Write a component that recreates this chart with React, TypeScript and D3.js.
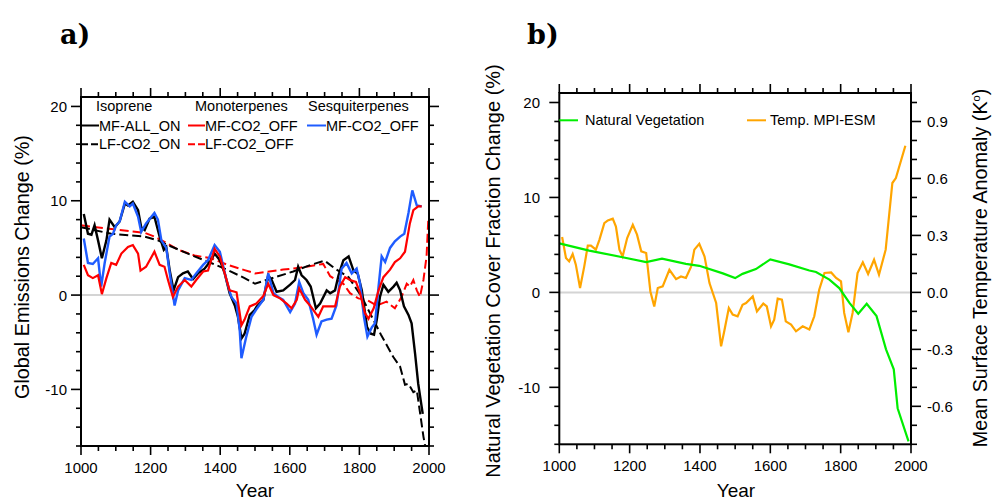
import React from "react";
import * as d3 from "d3";

// ---- Panel a: global BVOC emission change (%) ----
const isopreneMfAllOn: [number, number][] = [
  [1008, 8.6], [1020, 6.5], [1030, 6.4], [1039, 7.4], [1049, 5.8], [1060, 3.9], [1073, 5.8], [1082, 8.0],
  [1097, 7.2], [1111, 7.8], [1126, 9.7], [1135, 9.5], [1149, 9.9], [1164, 9.0], [1173, 7.2], [1183, 6.9],
  [1197, 8.1], [1211, 8.3], [1226, 6.2], [1238, 4.8], [1245, 5.1], [1255, 2.6], [1266, 0.5], [1279, 1.9],
  [1293, 2.3], [1307, 2.5], [1322, 1.7], [1336, 2.3], [1355, 2.8], [1370, 3.5], [1384, 4.4], [1399, 3.7],
  [1413, 2.3], [1427, 0.2], [1442, -1.1], [1451, -2.3], [1461, -4.6], [1470, -4.1], [1485, -2.1], [1499, -1.6],
  [1505, -1.2], [1524, -0.5], [1538, 2.1], [1548, 1.6], [1562, 0.35], [1581, 0.5], [1601, 1.1], [1615, 1.6],
  [1624, 3.0], [1634, 2.1], [1648, 1.6], [1660, 0.9], [1675, -1.4], [1687, -0.9], [1706, 0.5], [1716, 0.2],
  [1730, 0.5], [1740, 2.1], [1754, 3.7], [1769, 4.1], [1783, 2.6], [1795, 2.3], [1807, 0.5], [1822, -3.4],
  [1833, -4.1], [1842, -4.2], [1850, -2.6], [1859, -0.2], [1869, 1.1], [1883, 0.35], [1898, 0.9], [1907, 1.3],
  [1917, 0.5], [1928, -1.2], [1941, -2.1], [1950, -3.0], [1960, -6.2], [1969, -9.4], [1982, -12.6],
];

const isopreneLfCo2On: [number, number][] = [
  [1000, 7.2], [1087, 6.5], [1183, 6.2], [1221, 5.8], [1250, 5.3], [1326, 4.1], [1374, 3.4], [1422, 2.65],
  [1470, 1.8], [1500, 1.2], [1524, 1.5], [1610, 2.5], [1660, 3.2], [1700, 3.65], [1730, 2.8], [1769, 1.9],
  [1807, -0.2], [1833, -2.1], [1862, -4.2], [1898, -6.6], [1917, -7.6], [1931, -9.5], [1941, -9.4],
  [1955, -10.3], [1965, -10.1], [1974, -12.4], [1984, -15.0], [1989, -16.0],
];

const monoterpMfCo2Off: [number, number][] = [
  [1008, 3.2], [1020, 2.1], [1034, 1.8], [1049, 2.1], [1060, 0.1], [1073, 1.8], [1087, 3.4], [1101, 3.2],
  [1116, 4.4], [1135, 5.1], [1149, 5.3], [1164, 4.4], [1171, 2.6], [1187, 3.0], [1211, 4.6], [1226, 3.2],
  [1240, 3.0], [1250, 1.6], [1264, -0.2], [1279, 0.9], [1298, 1.6], [1317, 0.9], [1331, 1.6], [1351, 2.5],
  [1365, 2.6], [1384, 4.9], [1399, 4.1], [1413, 2.3], [1427, 0.5], [1447, 0.3], [1456, -1.9], [1461, -3.2],
  [1470, -2.6], [1485, -1.2], [1504, -0.9], [1524, -0.1], [1538, 1.2], [1553, 0.0], [1572, -0.35], [1591, -0.9],
  [1605, -1.4], [1620, -0.5], [1627, 0.7], [1644, -0.5], [1658, -1.1], [1672, -1.8], [1682, -2.3], [1696, -1.2],
  [1716, -1.2], [1730, -1.2], [1744, 0.9], [1759, 1.9], [1773, 1.6], [1790, 1.4], [1802, 0.2], [1816, -1.9],
  [1826, -2.5], [1841, -1.4], [1855, 0.5], [1869, 1.9], [1888, 2.7], [1902, 3.5], [1917, 3.9], [1931, 4.6],
  [1945, 7.6], [1955, 9.0], [1969, 9.4], [1979, 9.4],
];

const monoterpLfCo2Off: [number, number][] = [
  [1000, 7.4], [1087, 7.0], [1183, 6.6], [1211, 6.2], [1240, 5.65], [1279, 4.8], [1326, 4.2], [1374, 3.9],
  [1422, 3.2], [1470, 2.65], [1500, 2.3], [1581, 2.7], [1629, 2.9], [1696, 3.3], [1716, 2.0], [1735, 1.6],
  [1754, 1.2], [1773, 0.2], [1797, -0.35], [1821, -0.5], [1850, -1.1], [1878, -0.7], [1902, -1.4], [1921, -0.2],
  [1936, 1.2], [1945, 0.9], [1955, 1.6], [1965, 0.5], [1974, -0.2], [1984, 1.6], [1993, 4.1], [1998, 8.0],
];

const sesquiMfCo2Off: [number, number][] = [
  [1008, 6.0], [1020, 3.4], [1034, 3.3], [1049, 3.9], [1058, 0.9], [1068, 3.4], [1082, 6.2], [1092, 6.5],
  [1101, 7.4], [1111, 7.8], [1126, 9.9], [1140, 9.4], [1149, 9.7], [1164, 8.3], [1173, 6.7], [1187, 7.6],
  [1211, 8.7], [1221, 8.0], [1231, 5.8], [1245, 5.0], [1255, 2.3], [1269, -1.1], [1279, 0.5], [1298, 1.8],
  [1317, 1.6], [1331, 2.3], [1351, 3.2], [1365, 3.7], [1384, 5.3], [1399, 4.6], [1418, 1.6], [1432, -0.2],
  [1447, -0.9], [1456, -3.7], [1461, -6.7], [1475, -4.4], [1490, -2.3], [1504, -1.5], [1524, -0.5], [1538, 2.3],
  [1553, 0.2], [1567, -0.2], [1581, -0.5], [1601, -1.8], [1615, -0.9], [1627, 1.4], [1639, 0.2], [1653, -0.5],
  [1667, -2.5], [1677, -4.2], [1691, -2.8], [1706, -2.6], [1720, -2.5], [1734, -1.1], [1749, 2.8], [1763, 3.4],
  [1778, 2.3], [1792, 2.8], [1802, 1.2], [1813, -2.3], [1823, -4.4], [1836, -3.4], [1845, -3.0], [1855, 0.9],
  [1864, 4.1], [1874, 3.5], [1888, 5.0], [1902, 5.7], [1917, 6.2], [1929, 6.5], [1941, 8.7], [1952, 11.1],
  [1965, 9.5], [1979, 9.4],
];

// ---- Panel b: natural vegetation cover (%) and temperature anomaly (K) ----
const naturalVegetation: [number, number][] = [
  [1000, 5.16], [1085, 4.4], [1180, 3.7], [1247, 3.2], [1292, 3.55], [1360, 3.0], [1398, 2.8], [1465, 2.0],
  [1500, 1.5], [1521, 1.95], [1559, 2.45], [1600, 3.47], [1654, 2.95], [1711, 2.3], [1730, 2.15], [1768, 1.35],
  [1796, 0.45], [1825, -1.1], [1850, -2.25], [1874, -1.2], [1902, -2.5], [1929, -6.0], [1951, -8.1],
  [1962, -12.2], [1993, -15.7],
];

const tempMpiEsm: [number, number][] = [
  [1008, 0.292], [1019, 0.181], [1028, 0.163], [1038, 0.202], [1047, 0.146], [1059, 0.023], [1071, 0.137],
  [1081, 0.246], [1090, 0.246], [1104, 0.225], [1114, 0.277], [1128, 0.365], [1138, 0.379], [1152, 0.388],
  [1161, 0.347], [1171, 0.225], [1180, 0.189], [1193, 0.286], [1209, 0.356], [1221, 0.304], [1233, 0.216],
  [1247, 0.207], [1259, 0.005], [1270, -0.074], [1280, 0.023], [1294, 0.032], [1313, 0.119], [1332, 0.07],
  [1346, 0.084], [1360, 0.076], [1375, 0.137], [1384, 0.225], [1398, 0.256], [1413, 0.189], [1427, 0.049],
  [1446, -0.056], [1460, -0.284], [1469, -0.205], [1482, -0.082], [1493, -0.117], [1507, -0.126],
  [1521, -0.065], [1531, -0.056], [1550, -0.021], [1562, -0.1], [1580, -0.059], [1590, -0.074],
  [1602, -0.179], [1611, -0.144], [1621, -0.033], [1633, -0.038], [1644, -0.153], [1659, -0.17],
  [1673, -0.205], [1692, -0.179], [1711, -0.196], [1725, -0.126], [1739, 0.014], [1754, 0.102],
  [1773, 0.105], [1787, 0.076], [1801, 0.058], [1810, -0.108], [1822, -0.21], [1834, -0.108], [1848, 0.102],
  [1863, 0.158], [1878, 0.097], [1895, 0.172], [1909, 0.093], [1928, 0.225], [1947, 0.576], [1957, 0.602],
  [1984, 0.772],
];

// Axis tick values
const yearMajor = [1000, 1200, 1400, 1600, 1800, 2000];
const yearMinor = d3.range(1000, 2001, 50);
const pctMajor = [20, 10, 0, -10];
const pctMinor = d3.range(-16, 21, 2);
const kMajor = [0.9, 0.6, 0.3, 0.0, -0.3, -0.6];
const kMinor = d3.range(-8, 11, 1).map((v) => v / 10);

const FONT = "'Liberation Sans', Arial, Helvetica, sans-serif";
const SERIF = "'DejaVu Serif', 'Liberation Serif', serif";
const RED = "#ff0000";
const BLUE = "#1f5cff";
const GREEN = "#00ee00";
const ORANGE = "#ffa500";

type Pt = [number, number];

function Frame({ x0, x1, y0, y1 }: { x0: number; x1: number; y0: number; y1: number }) {
  return <rect x={x0} y={y0} width={x1 - x0} height={y1 - y0} fill="none" stroke="#000" strokeWidth={2} />;
}

export default function App() {
  // Panel a scales
  const xA = d3.scaleLinear().domain([1000, 2000]).range([81, 429]);
  const yA = d3.scaleLinear().domain([-16, 21]).range([446, 97]);
  // Panel b scales
  const xB = d3.scaleLinear().domain([1000, 2000]).range([559.3, 911]);
  const yB = d3.scaleLinear().domain([-16, 21]).range([444.3, 93]);
  const yK = d3.scaleLinear().domain([-0.8, 1.05]).range([444.3, 93]);

  const lineA = d3.line<Pt>().x((d) => xA(d[0])).y((d) => yA(d[1]));
  const lineB = d3.line<Pt>().x((d) => xB(d[0])).y((d) => yB(d[1]));
  const lineK = d3.line<Pt>().x((d) => xB(d[0])).y((d) => yK(d[1]));

  const tickColor = "#000";
  const tw = 1.6;

  const xTicks = (x: d3.ScaleLinear<number, number>, top: number, bottom: number, key: string) => (
    <g key={key}>
      {yearMinor.map((v) => {
        const major = yearMajor.includes(v);
        const L = major ? 9 : 5;
        return (
          <g key={v}>
            <line x1={x(v)} x2={x(v)} y1={top} y2={top - L} stroke={tickColor} strokeWidth={tw} />
            <line x1={x(v)} x2={x(v)} y1={bottom} y2={bottom + L} stroke={tickColor} strokeWidth={tw} />
          </g>
        );
      })}
      {yearMajor.map((v) => (
        <text key={"l" + v} x={x(v)} y={bottom + 27} textAnchor="middle" fontSize={15} fontFamily={FONT}>
          {v}
        </text>
      ))}
    </g>
  );

  const pctTicks = (
    y: d3.ScaleLinear<number, number>,
    left: number,
    right: number,
    withRight: boolean,
    labelX: number
  ) => (
    <g>
      {pctMinor.map((v) => {
        const major = pctMajor.includes(v);
        const L = major ? 10 : 5;
        return (
          <g key={v}>
            <line x1={left} x2={left - L} y1={y(v)} y2={y(v)} stroke={tickColor} strokeWidth={tw} />
            {withRight && (
              <line x1={right} x2={right + L} y1={y(v)} y2={y(v)} stroke={tickColor} strokeWidth={tw} />
            )}
          </g>
        );
      })}
      {pctMajor.map((v) => (
        <text key={"l" + v} x={labelX} y={y(v) + 5.5} textAnchor="end" fontSize={15} fontFamily={FONT}>
          {v}
        </text>
      ))}
    </g>
  );

  const legendText = (x: number, y: number, s: string, size = 14.5) => (
    <text x={x} y={y} fontSize={size} fontFamily={FONT}>
      {s}
    </text>
  );

  return (
    <svg
      width={992}
      height={502}
      style={{ position: "absolute", left: 0, top: 0, background: "#fff" }}
      xmlns="http://www.w3.org/2000/svg"
    >
      <rect x={0} y={0} width={992} height={502} fill="#fff" />

      {/* ---------- Panel a ---------- */}
      <text x={60} y={44} fontSize={27} fontWeight="bold" fontFamily={SERIF}>
        a)
      </text>
      <line x1={81} x2={429} y1={yA(0)} y2={yA(0)} stroke="#d4d4d4" strokeWidth={2} />
      <path d={lineA(monoterpLfCo2Off) ?? ""} fill="none" stroke={RED} strokeWidth={2} strokeDasharray="9,4" />
      <path d={lineA(isopreneLfCo2On) ?? ""} fill="none" stroke="#000" strokeWidth={2} strokeDasharray="9,4" />
      <path d={lineA(isopreneMfAllOn) ?? ""} fill="none" stroke="#000" strokeWidth={2.4} />
      <path d={lineA(sesquiMfCo2Off) ?? ""} fill="none" stroke={BLUE} strokeWidth={2.4} />
      <path d={lineA(monoterpMfCo2Off) ?? ""} fill="none" stroke={RED} strokeWidth={2.2} />
      <Frame x0={81} x1={429} y0={97} y1={446} />
      {xTicks(xA, 97, 446, "xa")}
      {pctTicks(yA, 81, 429, true, 67)}

      {/* legend a */}
      {legendText(96, 111, "Isoprene")}
      {legendText(195, 111, "Monoterpenes")}
      {legendText(308, 111, "Sesquiterpenes")}
      <line x1={81} x2={99} y1={125.5} y2={125.5} stroke="#000" strokeWidth={2} />
      {legendText(99, 130.5, "MF-ALL_ON")}
      <line x1={188} x2={205} y1={125.5} y2={125.5} stroke={RED} strokeWidth={2} />
      {legendText(205, 130.5, "MF-CO2_OFF")}
      <line x1={307} x2={326} y1={125.5} y2={125.5} stroke={BLUE} strokeWidth={2} />
      {legendText(326, 130.5, "MF-CO2_OFF")}
      <line x1={81} x2={99} y1={144.3} y2={144.3} stroke="#000" strokeWidth={2} strokeDasharray="7,3" />
      {legendText(99, 149.3, "LF-CO2_ON")}
      <line x1={188} x2={205} y1={144.3} y2={144.3} stroke={RED} strokeWidth={2} strokeDasharray="7,3" />
      {legendText(205, 149.3, "LF-CO2_OFF")}

      <text x={255} y={497} textAnchor="middle" fontSize={19} fontFamily={FONT}>
        Year
      </text>
      <text transform="translate(28.5, 267) rotate(-90)" textAnchor="middle" fontSize={19.8} fontFamily={FONT}>
        Global Emissions Change (%)
      </text>

      {/* ---------- Panel b ---------- */}
      <text x={527} y={44} fontSize={27} fontWeight="bold" fontFamily={SERIF}>
        b)
      </text>
      <line x1={559.3} x2={911} y1={yB(0)} y2={yB(0)} stroke="#d4d4d4" strokeWidth={2} />
      <path d={lineK(tempMpiEsm) ?? ""} fill="none" stroke={ORANGE} strokeWidth={2.2} />
      <path d={lineB(naturalVegetation) ?? ""} fill="none" stroke={GREEN} strokeWidth={2.2} />
      <Frame x0={559.3} x1={911} y0={93} y1={444.3} />
      {xTicks(xB, 93, 444.3, "xb")}
      {pctTicks(yB, 559.3, 911, false, 540)}
      {kMinor.map((v) => {
        const major = kMajor.some((m) => Math.abs(m - v) < 1e-6);
        const L = major ? 10 : 6;
        return (
          <line key={"k" + v} x1={911} x2={911 + L} y1={yK(v)} y2={yK(v)} stroke={tickColor} strokeWidth={tw} />
        );
      })}
      {kMajor.map((v) => (
        <text key={"kl" + v} x={927} y={yK(v) + 5.5} fontSize={15} fontFamily={FONT}>
          {v.toFixed(1)}
        </text>
      ))}

      {/* legend b */}
      <line x1={559.3} x2={578} y1={120.3} y2={120.3} stroke={GREEN} strokeWidth={2} />
      {legendText(585, 125.3, "Natural Vegetation")}
      <line x1={747} x2={766} y1={120.3} y2={120.3} stroke={ORANGE} strokeWidth={2} />
      {legendText(770, 125.3, "Temp. MPI-ESM")}

      <text x={736} y={497} textAnchor="middle" fontSize={19} fontFamily={FONT}>
        Year
      </text>
      <text transform="translate(500, 271) rotate(-90)" textAnchor="middle" fontSize={20} fontFamily={FONT}>
        Natural Vegetation Cover Fraction Change  (%)
      </text>
      <text transform="translate(987, 268) rotate(-90)" textAnchor="middle" fontSize={19.8} fontFamily={FONT}>
        Mean Surface Temperature Anomaly (K
        <tspan dy={-7} fontSize={11}>o</tspan>
        <tspan dy={7}>)</tspan>
      </text>
    </svg>
  );
}
